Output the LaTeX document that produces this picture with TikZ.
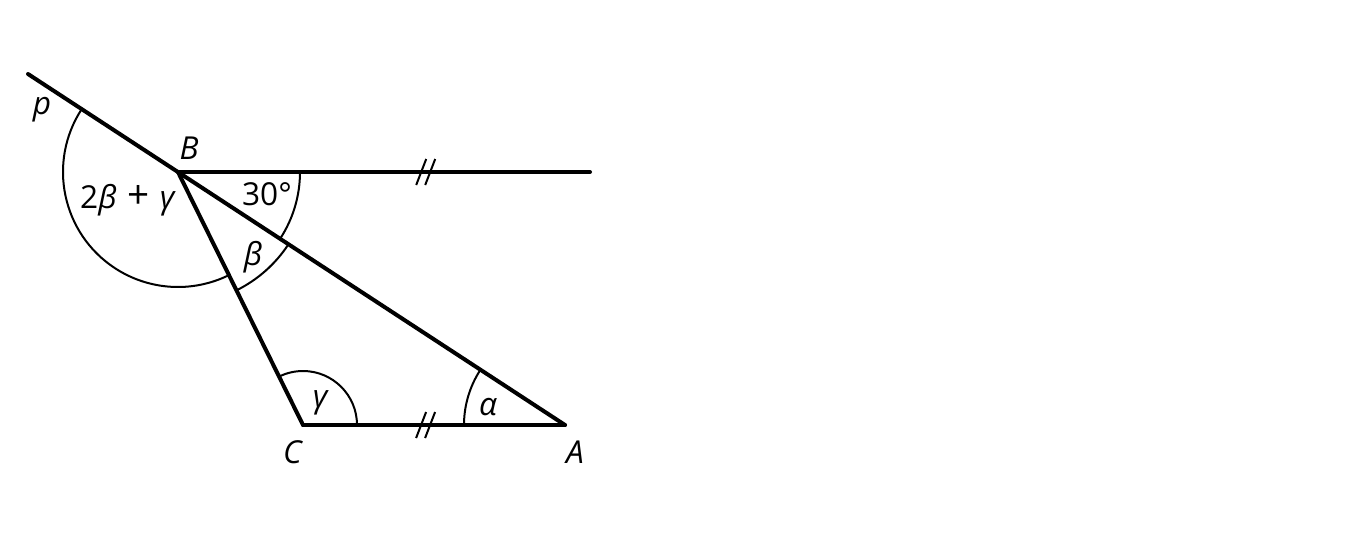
\documentclass[tikz,border=0pt]{standalone}
\usepackage{fontspec}
\setmainfont{Open Sans}
\usetikzlibrary{angles,calc}
\tikzset{
  side/.style={line width=0.8mm, line cap=round},
  arcline/.style={line width=0.4mm},
  lbl/.style={font=\fontsize{18}{21}\selectfont, inner sep=0pt},
  eqmark/.pic={\draw[arcline] (-9,13) -- (1,-13) (0,13) -- (10,-13);}
}
\begin{document}
\begin{tikzpicture}[x=0.2mm, y=-0.2mm]
  \useasboundingbox (0,0) rectangle (1372,539);
  % points
  \coordinate (B) at (178,172);
  \coordinate (C) at (303,425);
  \coordinate (A) at (565,425);
  \coordinate (P) at (28,74);
  \coordinate (H) at (590,172);
  % sides
  \draw[side] (P) -- (A);
  \draw[side] (C) -- (A);
  \draw[side] (B) -- (C);
  \draw[side] (B) -- (H);
  % angles
  \pic[draw, arcline, angle radius=24.4mm] {angle=A--B--H};
  \pic[draw, arcline, angle radius=26.4mm] {angle=C--B--A};
  \pic[draw, arcline, angle radius=23mm] {angle=P--B--C};
  \pic[draw, arcline, angle radius=10.8mm] {angle=A--C--B};
  \pic[draw, arcline, angle radius=20.2mm] {angle=B--A--C};
  % equal marks
  \pic at ($(B)!0.6!(H)$) {eqmark};
  \pic at ($(C)!0.466!(A)$) {eqmark};
  % labels
  \node[lbl] (lp) at (42,110) {\textit{p}};
  \node[lbl] (lB) at (189,148) {\textit{B}};
  \node[lbl] (lC) at (293,452) {\textit{C}};
  \node[lbl] (lA) at (575,452) {\textit{A}};
  \node[lbl] (l30) at (267,194) {30°};
  \node[lbl] (lbig) at (128,200) {2\textit{β}\,\,{\fontsize{22}{22}\selectfont +}\,\,\textit{γ}};
  \node[lbl] (lbeta) at (253,257) {\textit{β}};
  \node[lbl] (lgamma) at (321,403) {\textit{γ}};
  \node[lbl] (lalpha) at (488,407) {\textit{α}};
\end{tikzpicture}
\end{document}
